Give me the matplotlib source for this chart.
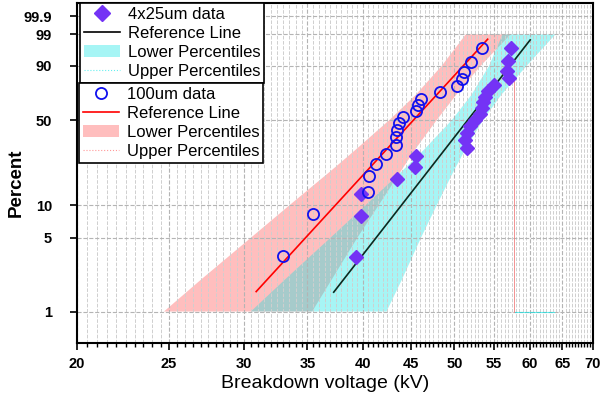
import numpy as np
import matplotlib.pyplot as plt
from matplotlib.lines import Line2D
from matplotlib.patches import Patch

plt.rcParams['font.family'] = ['Liberation Sans', 'DejaVu Sans']

# 4x25um samples (kV) and their plotting positions (%)
kv_4x25 = [39.4, 39.9, 39.9, 43.5, 45.4, 45.6, 51.5, 51.3, 51.6, 51.9, 52.6,
           53.2, 53.4, 53.6, 53.9, 54.3, 55.0, 57.1, 56.8, 56.9, 57.4]
pct_4x25 = [3.27, 7.94, 12.62, 17.29, 21.96, 26.64, 31.31, 35.98, 40.65, 45.33, 50.0,
            54.67, 59.35, 64.02, 68.69, 73.36, 78.04, 82.71, 87.38, 92.06, 96.73]

# 100um samples
kv_100 = [33.0, 35.5, 40.5, 40.6, 41.3, 42.3, 43.4, 43.4, 43.5, 43.7,
          44.1, 45.6, 45.8, 46.1, 48.3, 50.3, 50.9, 51.2, 52.1, 53.4]
pct_100 = [3.4, 8.3, 13.2, 18.1, 23.0, 27.9, 32.8, 37.7, 42.6, 47.5,
           52.5, 57.4, 62.3, 67.2, 72.1, 77.0, 81.9, 86.8, 91.7, 96.6]

# reference (fit) lines, end points
ref_4x25_kv = [37.3, 60.1]
ref_4x25_pct = [1.53, 98.3]
ref_100_kv = [30.9, 54.2]
ref_100_pct = [1.55, 98.4]

# confidence bands: lower / upper percentile curves read at these levels
band_pct = [1, 2, 5, 10, 20, 30, 50, 70, 90, 99]
band_4x25_lo = [30.5, 33.1, 37.0, 40.3, 44.0, 46.4, 49.7, 52.1, 54.4, 56.2]
band_4x25_hi = [42.4, 44.0, 46.1, 47.9, 49.9, 51.3, 53.6, 56.0, 59.6, 63.9]
band_100_lo = [24.7, 27.0, 30.5, 33.5, 37.0, 39.3, 42.7, 45.5, 48.5, 51.4]
band_100_hi = [35.4, 37.1, 39.5, 41.6, 43.9, 45.4, 47.9, 50.2, 53.3, 57.3]

yticks = [1, 5, 10, 50, 90, 99, 99.9]
xticks = [20, 25, 30, 35, 40, 45, 50, 55, 60, 65, 70]

c_purple = '#7433f5'
c_cyan = '#00e5e5'
c_pink = '#ff5555'


def weib(p):
    p = np.clip(np.asarray(p, dtype=float), 1e-6, 99.99999)
    return np.log(-np.log(1 - p / 100.0))


def weib_inv(w):
    return 100.0 * (1 - np.exp(-np.exp(np.asarray(w, dtype=float))))


fig = plt.figure(figsize=(6.02, 3.97), dpi=100)
ax = fig.add_axes([77 / 602, 1 - 343 / 397, 516 / 602, 340 / 397])
ax.set_xscale('log')
ax.set_yscale('function', functions=(weib, weib_inv))

# bands
ax.fill(band_100_lo + band_100_hi[::-1], band_pct + band_pct[::-1],
        facecolor=c_pink, alpha=0.38, edgecolor='none', zorder=1)
ax.fill(band_4x25_lo + band_4x25_hi[::-1], band_pct + band_pct[::-1],
        facecolor=c_cyan, alpha=0.35, edgecolor='none', zorder=1)

# stray percentile lines
ax.plot([57.8, 57.8], [1, 81], color='#f08080', lw=0.6, zorder=1.6)
ax.plot([57.9, 63.6], [1, 1], color=c_cyan, lw=0.8, alpha=0.6, zorder=1.6)

ax.plot(ref_100_kv, ref_100_pct, color='red', lw=1.2, zorder=2)
ax.plot(ref_4x25_kv, ref_4x25_pct, color='#0a2a20', lw=1.2, zorder=2)

ax.plot(kv_4x25, pct_4x25, ls='none', marker='D', ms=6.7, color=c_purple,
        mec=c_purple, zorder=3)
ax.plot(kv_100, pct_100, ls='none', marker='o', ms=8, mfc='none', mec='#1010ee',
        mew=1.3, zorder=3)

ax.set_xlim(20, 70)
ax.set_ylim(0.5, 99.99)
ax.set_xticks(xticks)
ax.set_xticklabels([str(v) for v in xticks])
ax.set_xticks(np.arange(20, 70.01, 0.5), minor=True)
ax.set_xticklabels([], minor=True)
ax.set_yticks(yticks)
ax.set_yticklabels([str(v) for v in yticks])
ax.set_yticks([], minor=True)

ax.tick_params(axis='both', which='major', labelsize=10.5, direction='out', length=5,
               width=1.2)
ax.tick_params(axis='x', which='minor', direction='out', length=3, width=1)
ax.tick_params(axis='x', which='major', pad=5)
ax.tick_params(axis='y', which='major', pad=13)
for lab in ax.get_xticklabels() + ax.get_yticklabels():
    lab.set_fontweight('bold')

ax.set_axisbelow('line')
ax.grid(which='major', ls='--', color='#b4b4b4', lw=0.8)
ax.grid(which='minor', axis='x', ls='--', color='#cfcfcf', lw=0.7)

for sp in ax.spines.values():
    sp.set_linewidth(1.5)

ax.set_xlabel('Breakdown voltage (kV)', fontsize=14)
ax.set_ylabel('Percent', fontsize=13.5, fontweight='bold')
ax.xaxis.set_label_coords(0.48, -0.095)
ax.yaxis.set_label_coords(-0.102, 0.47)

h1 = [Line2D([], [], ls='none', marker='D', ms=8, color=c_purple),
      Line2D([], [], color='black', lw=1.2),
      Patch(facecolor=c_cyan, alpha=0.35, edgecolor='none'),
      Line2D([], [], color=c_cyan, lw=0.8, ls=':', alpha=0.6)]
l1 = ['4x25um data', 'Reference Line', 'Lower Percentiles', 'Upper Percentiles']
h2 = [Line2D([], [], ls='none', marker='o', ms=8, mfc='none', mec='#1010ee', mew=1.3),
      Line2D([], [], color='red', lw=1.2),
      Patch(facecolor=c_pink, alpha=0.38, edgecolor='none'),
      Line2D([], [], color=c_pink, lw=0.8, ls=':', alpha=0.6)]
l2 = ['100um data', 'Reference Line', 'Lower Percentiles', 'Upper Percentiles']

leg_kw = dict(loc='upper left', fontsize=12, fancybox=False, framealpha=1,
              edgecolor='black', borderaxespad=0, handlelength=2.2,
              labelspacing=0.25, borderpad=0.22, handletextpad=0.45)
leg1 = ax.legend(h1, l1, bbox_to_anchor=(0.006, 1.0), **leg_kw)
leg1.get_frame().set_linewidth(1.2)
ax.add_artist(leg1)
leg2 = ax.legend(h2, l2, bbox_to_anchor=(0.004, 0.765), **leg_kw)
leg2.get_frame().set_linewidth(1.2)

fig.savefig('out.png', dpi=100)
